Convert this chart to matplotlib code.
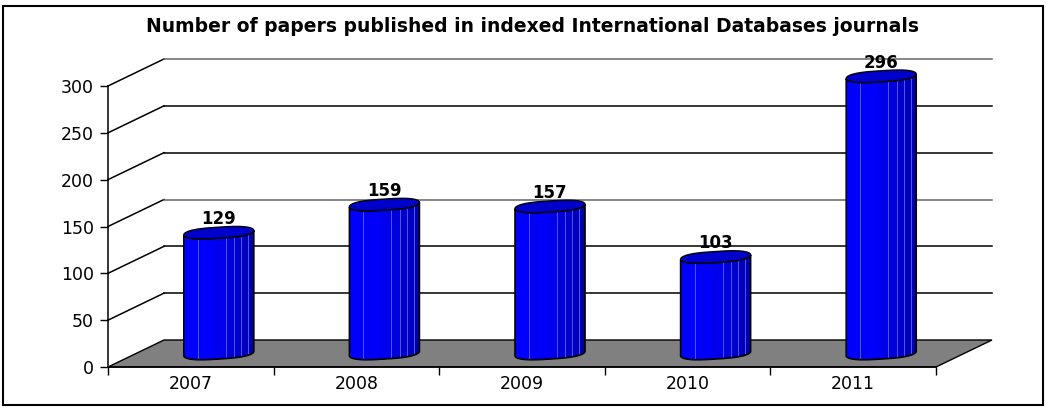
import numpy as np
import matplotlib
matplotlib.use("Agg")
import matplotlib.pyplot as plt
from matplotlib.patches import Rectangle, Polygon

# values
years = ['2007', '2008', '2009', '2010', '2011']
papers = [129, 159, 157, 103, 296]
y_ticks = [0, 50, 100, 150, 200, 250, 300]
grid_colors = ['black', 'black', 'black', '#666666', 'black', 'black', '#666666']

W, H = 1046, 409
# shading of the cylinder, left to right (fraction of width, colour)
strip_edges = [0, .2, .45, .6, .72, .82, .92, 1]
strip_colors = ['#0000ff', '#0000fa', '#0000ec', '#0000dc', '#0000cc', '#0000bc', '#0000a8']
strip_lines = [.2, .6, .72, .82, .92]

fig = plt.figure(figsize=(W / 100, H / 100), dpi=100)
fig.patches.append(Rectangle((2.5 / W, 1 - 404.5 / H), 1040 / W, 399 / H, transform=fig.transFigure,
                             fill=False, ec='black', lw=1.5))

# axes = the front plane of the 3D box
ax = fig.add_axes([108 / W, 1 - 367 / H, 828 / W, 281 / H])
ax.set_xlim(-0.5, 4.5)
ax.set_ylim(0, 300)
ax.patch.set_visible(False)

px_x = 5 / 828  # data units per pixel
px_y = 300 / 281
dep_x = 56 * px_x
dep_y = 27 * px_y

# floor
ax.fill([-0.5, 4.5, 4.5 + dep_x, -0.5 + dep_x], [0, 0, dep_y, dep_y], fc='#808080', ec='black', lw=1, clip_on=False, zorder=1)

# back wall grid and the slanted lines on the left
for t, c in zip(y_ticks, grid_colors):
    if t > 0:
        ax.plot([-0.5, -0.5 + dep_x], [t, t + dep_y], color='black', lw=1.1, clip_on=False, zorder=1)
        ax.plot([-0.5 + dep_x, 4.5 + dep_x], [t + dep_y, t + dep_y], color=c, lw=1.1, clip_on=False, zorder=1)

# cylinders
bar_w = 70 * px_x
base = dep_y / 2
t = np.linspace(0, 2 * np.pi, 121)
# squared off, slightly tilted cap shape
ex = np.sign(np.cos(t)) * np.abs(np.cos(t)) ** 0.65 * bar_w / 2
ey = (np.sin(t) * 5.5 + ex / (bar_w / 2) * 2.2) * px_y
low = t > np.pi  # lower half, left to right
for i, v in enumerate(papers):
    cx = i + dep_x / 2
    left = cx - bar_w / 2
    top = base + v
    body_x = np.r_[cx + ex[low], cx + ex[low][::-1]]
    body_y = np.r_[base + ey[low], top + ey[low][::-1]]
    body = Polygon(np.c_[body_x, body_y], closed=True, transform=ax.transData, fill=False, ec='black', lw=1.2, zorder=6, clip_on=False)
    ax.add_patch(body)
    clip = Polygon(np.c_[body_x, body_y], closed=True, transform=ax.transData)
    for j, c in enumerate(strip_colors):
        a, b = strip_edges[j], strip_edges[j + 1]
        rects = ax.bar(left + a * bar_w, v + 10, (b - a) * bar_w, bottom=base - 10, align='edge', color=c, lw=0, zorder=4)
        rects[0].set_clip_path(clip)
        rects[0].set_clip_box(None)  # tallest bar goes above the axes
    for f in strip_lines:
        l, = ax.plot([left + f * bar_w] * 2, [base - 10, top], color='#5555ff', lw=0.7, zorder=5)
        l.set_clip_path(clip)
        l.set_clip_box(None)
    ax.fill(cx + ex, top + ey, fc='#0000cc', ec='black', lw=1, clip_on=False, zorder=7)
    ax.text(cx, top + 14.5, str(v), ha='center', va='center', fontsize=12, fontweight='bold', family='DejaVu Sans', zorder=8)

ax.set_yticks(y_ticks)
ax.set_yticklabels([str(t) for t in y_ticks], fontsize=12.5, family='DejaVu Sans')
ax.set_xticks(np.arange(-0.5, 5, 1), minor=False)
ax.set_xticklabels([''] * 6)
ax.set_xticks(range(5), minor=True)
ax.set_xticklabels(years, minor=True, fontsize=12.5, family='DejaVu Sans')
ax.tick_params(axis='x', which='minor', length=0, pad=6)
ax.tick_params(axis='x', which='major', length=6, width=1)
ax.tick_params(axis='y', length=6, width=1, pad=4)
for s in ['top', 'right']:
    ax.spines[s].set_visible(False)
ax.spines['left'].set_linewidth(1.1)
ax.spines['bottom'].set_linewidth(1.1)

fig.text(533 / W, 1 - 26 / H, 'Number of papers published in indexed International Databases journals',
         ha='center', va='center', fontsize=13.5, fontweight='bold', family='DejaVu Sans')

fig.savefig('out.png', dpi=100)
